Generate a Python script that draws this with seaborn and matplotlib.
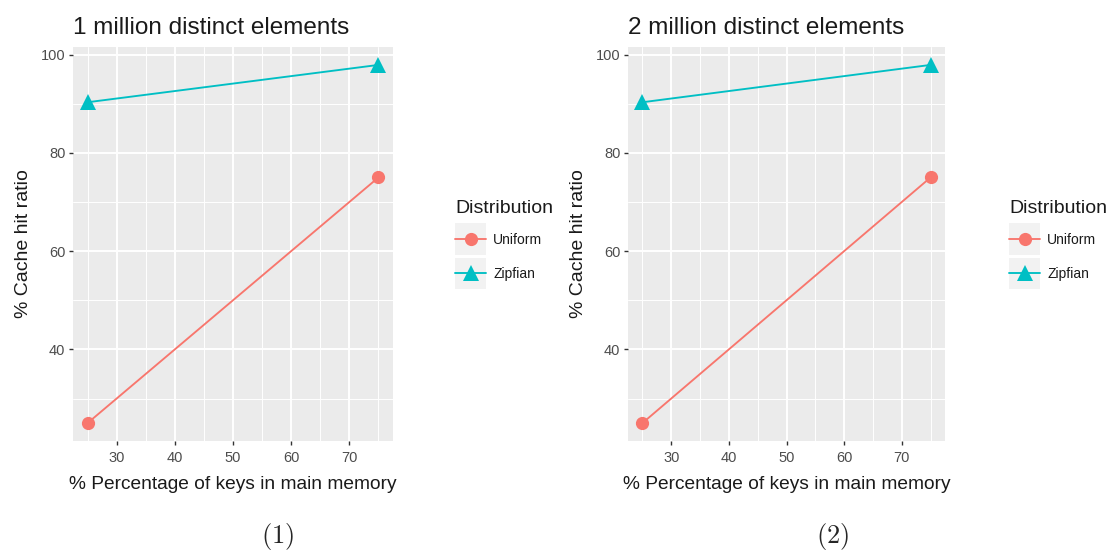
import numpy as np
import pandas as pd
import seaborn as sns
import matplotlib
matplotlib.use("Agg")
import matplotlib.pyplot as plt
from matplotlib.legend_handler import HandlerLine2D
from matplotlib.patches import Rectangle
from matplotlib.lines import Line2D
from matplotlib.ticker import MultipleLocator

# Measurements: % of keys held in main memory vs. % cache hits
keys_pct = [25, 75]
uniform_1m = [25.0, 75.0]
zipfian_1m = [90.3, 97.9]
uniform_2m = [25.0, 75.0]
zipfian_2m = [90.3, 97.9]

panel_titles = ["1 million distinct elements", "2 million distinct elements"]
panel_captions = ["(1)", "(2)"]
distributions = ["Uniform", "Zipfian"]

palette = {"Uniform": "#F8766D", "Zipfian": "#00BFC4"}
markers = {"Uniform": "o", "Zipfian": "^"}
marker_sizes = {"o": 9.5, "^": 11}

sns.set_theme(style="darkgrid")
plt.rcParams["font.family"] = ["Liberation Sans", "DejaVu Sans"]
plt.rcParams["mathtext.fontset"] = "cm"

W, H = 1118, 550
fig = plt.figure(figsize=(W / 100, H / 100), dpi=100)

LW = 1.35


def frame(px_left, px_top, px_right, px_bottom):
    return [px_left / W, 1 - px_bottom / H, (px_right - px_left) / W, (px_bottom - px_top) / H]


class KeyHandler(HandlerLine2D):
    """Line+marker legend key drawn on a grey square, ggplot style."""

    def create_artists(self, legend, orig_handle, xdescent, ydescent,
                       width, height, fontsize, trans):
        artists = super().create_artists(legend, orig_handle, xdescent, ydescent,
                                         width, height, fontsize, trans)
        side = width
        cx = -xdescent + width / 2
        cy = -ydescent + height / 2
        bg = Rectangle((cx - side / 2, cy - side / 2), side, side,
                       facecolor="#F2F2F2", edgecolor="none", transform=trans)
        return [bg] + artists


def draw_panel(rect, uniform, zipfian, title, caption, legend_xy, caption_xy):
    ax = fig.add_axes(rect)
    df = pd.DataFrame({
        "keys": keys_pct * 2,
        "hit": list(uniform) + list(zipfian),
        "Distribution": [distributions[0]] * len(keys_pct) + [distributions[1]] * len(keys_pct),
    })
    sns.lineplot(data=df, x="keys", y="hit", hue="Distribution", style="Distribution",
                 markers=markers, dashes=False, palette=palette, ax=ax,
                 linewidth=LW, markersize=9.5, markeredgewidth=0, legend=False)
    for ln in ax.lines:
        m = ln.get_marker()
        if m in marker_sizes:
            ln.set_markersize(marker_sizes[m])

    ax.set_facecolor("#EBEBEB")
    ax.set_xlim(22.5, 77.5)
    lo, hi = min(uniform + zipfian), max(uniform + zipfian)
    pad = (hi - lo) * 0.05
    ax.set_ylim(lo - pad, hi + pad)
    ax.xaxis.set_major_locator(MultipleLocator(10))
    ax.xaxis.set_minor_locator(MultipleLocator(5))
    ax.yaxis.set_major_locator(MultipleLocator(20))
    ax.yaxis.set_minor_locator(MultipleLocator(10))
    ax.grid(which="major", color="white", linewidth=1.4)
    ax.grid(which="minor", color="white", linewidth=0.7)
    ax.set_axisbelow(True)
    for s in ax.spines.values():
        s.set_visible(False)
    ax.tick_params(which="major", length=3.0, width=1.0, color="#333333",
                   labelsize=10.5, labelcolor="#4D4D4D", pad=2.5)
    ax.tick_params(axis="x", which="major", pad=4)
    ax.tick_params(which="minor", length=0)
    ax.tick_params(axis="x", bottom=True)
    ax.tick_params(axis="y", left=True)

    ax.set_xlabel("% Percentage of keys in main memory", fontsize=13.8, color="#1A1A1A", labelpad=8)
    ax.set_ylabel("% Cache hit ratio", fontsize=14, color="#1A1A1A", labelpad=6)
    ax.set_title(title, loc="left", fontsize=17.5, color="#1A1A1A", pad=9)

    handles = [Line2D([], [], color=palette[d], marker=markers[d],
                      markersize=marker_sizes[markers[d]],
                      markeredgewidth=0, linewidth=LW) for d in distributions]
    leg = fig.legend(handles, distributions, title="Distribution",
                     loc="upper left", bbox_to_anchor=(legend_xy[0] / W, 1 - legend_xy[1] / H),
                     frameon=False, fontsize=10, title_fontsize=14,
                     handler_map={Line2D: KeyHandler()}, handlelength=2.25,
                     handletextpad=0.5, labelspacing=1.45, borderpad=0, borderaxespad=0)
    leg._legend_box.align = "left"
    leg._legend_box.sep = 11.5
    leg.get_title().set_color("#1A1A1A")
    for t in leg.get_texts():
        t.set_color("#1A1A1A")

    fig.text(caption_xy[0] / W, 1 - caption_xy[1] / H, r"$\mathrm{" + caption + "}$",
             ha="center", va="center", fontsize=19)
    return ax


draw_panel(frame(73, 47, 393, 441), uniform_1m, zipfian_1m, panel_titles[0],
           panel_captions[0], (455, 200), (278, 536))
draw_panel(frame(628, 47, 945, 441), uniform_2m, zipfian_2m, panel_titles[1],
           panel_captions[1], (1009, 200), (833, 536))

fig.savefig("out.png", dpi=100)
